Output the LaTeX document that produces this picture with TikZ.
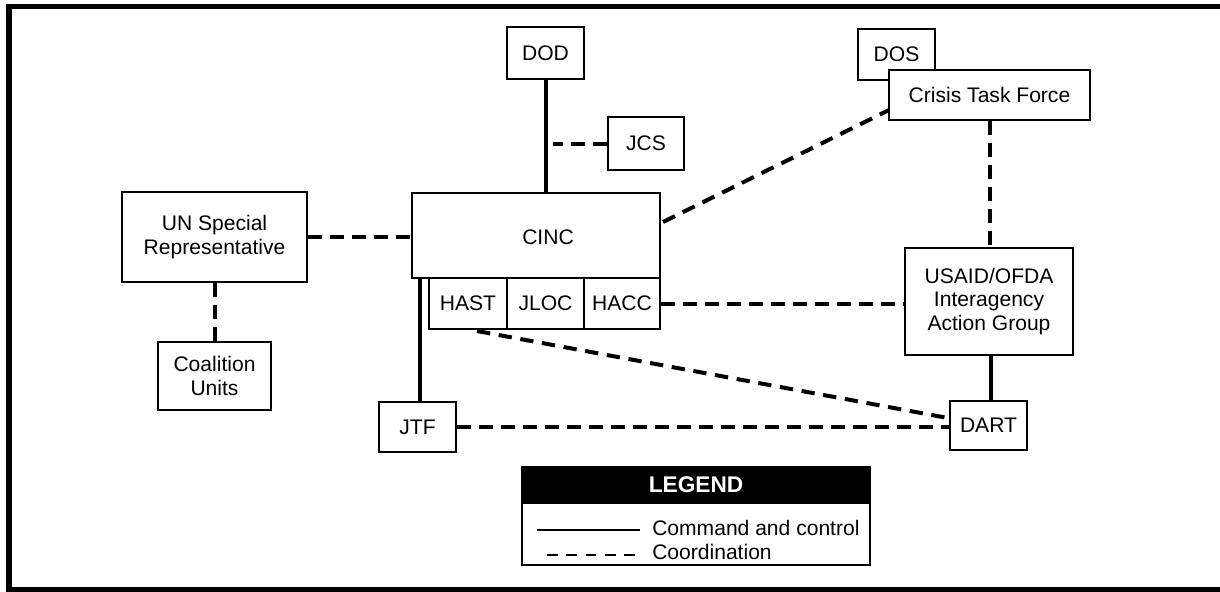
\documentclass[tikz,border=0pt]{standalone}
\usepackage{fontspec}
\setmainfont{Liberation Sans}
\usetikzlibrary{calc}
\begin{document}
\begin{tikzpicture}[x=0.75pt,y=-0.75pt,
  txt/.style={font=\fontsize{15.8}{17.6}\selectfont, align=center},
  box/.style={txt, draw, line width=2pt, fill=white, inner sep=0pt},
  sz/.style 2 args={minimum width={(#1)*0.75pt}, minimum height={(#2)*0.75pt}},
  cmd/.style={line width=3pt},
  crd/.style={line width=3pt, dash pattern=on 10pt off 6.5pt},
  frame/.style={line width=4pt}
]
\useasboundingbox (0,0) rectangle (1220,592);
% outer frame
\draw[frame] (1230,6.5) -- (9,6.5) -- (9,589.5) -- (1230,589.5);

% nodes
\node[box, sz={77}{52}] (dod) at (545.5,53) {DOD};
\node[box, sz={76}{53}] (jcs) at (646,143.5) {JCS};
\node[box, sz={248}{85}] (cinc) at (536,235.5) {};
\node[txt] (cinctext) at (548,237) {CINC};
\node[box, sz={78}{51}] (hast) at (468,303.5) {HAST};
\node[box, sz={77}{51}] (jloc) at (545.5,303.5) {JLOC};
\node[box, sz={76}{51}] (hacc) at (622,303.5) {HACC};
\node[box, sz={185}{90}] (un) at (214.5,237) {UN Special\\Representative};
\node[box, sz={113}{68}] (coal) at (214.5,376) {Coalition\\Units};
\node[box, sz={77}{50}] (jtf) at (417.5,427) {JTF};
\node[box, sz={77}{51}] (dos) at (896.5,54.5) {DOS};
\node[box, sz={201}{50}] (ctf) at (989.5,95) {Crisis Task Force};
\node[box, sz={168}{107}] (usaid) at (989,301.5) {USAID/OFDA\\Interagency\\Action Group};
\node[box, sz={77}{49}] (dart) at (988.5,425.5) {DART};

% named free ends
\coordinate (cincne) at (663,222);
\coordinate (ctfsw) at (889,110);
\coordinate (hastout) at (477,331);
\coordinate (dartin) at (948,418);
\coordinate (jcsfree) at (553,143.5);
\coordinate (jtfx) at (420,0);
\coordinate (dartx) at (991,0);

% command and control
\draw[cmd] (dod.south) -- (dod.south |- cinc.north);
\draw[cmd] (jtfx |- cinc.south) -- (jtfx |- jtf.north);
\draw[cmd] (dartx |- usaid.south) -- (dartx |- dart.north);

% coordination
\draw[crd] (jcs.west) -- (jcsfree);
\draw[crd] (un.east) -- (un.east -| cinc.west);
\draw[crd] (un.south) -- (coal.north);
\draw[crd] (cincne) -- (ctfsw);
\draw[crd] (ctf.south) -- (ctf.south |- usaid.north);
\draw[crd] (hacc.east) -- (hacc.east -| usaid.west);
\draw[crd] (hastout) -- (dartin);
\draw[crd] (jtf.east) -- (jtf.east -| dart.west);

% legend
\node[fill=black, draw=black, line width=1pt, sz={348}{36}, inner sep=0pt] (leghead) at (696,485) {};
\node[font=\fontsize{17}{19}\selectfont\bfseries, text=white] (legtitle) at (leghead.center) {LEGEND};
\node[draw, line width=1.2pt, sz={348}{62}, inner sep=0pt] (legbody) at (696,534) {};
\coordinate (l1a) at (537,530);
\coordinate (l1b) at (640,530);
\coordinate (l2a) at (547,555);
\coordinate (l2b) at (640,555);
\draw[line width=2pt] (l1a) -- (l1b);
\draw[line width=2pt, dash pattern=on 8pt off 6.5pt] (l2a) -- (l2b);
\node[txt, anchor=west, inner sep=0pt] (lt1) at (652,528) {Command and control};
\node[txt, anchor=west, inner sep=0pt] (lt2) at (652,552) {Coordination};
\end{tikzpicture}
\end{document}
